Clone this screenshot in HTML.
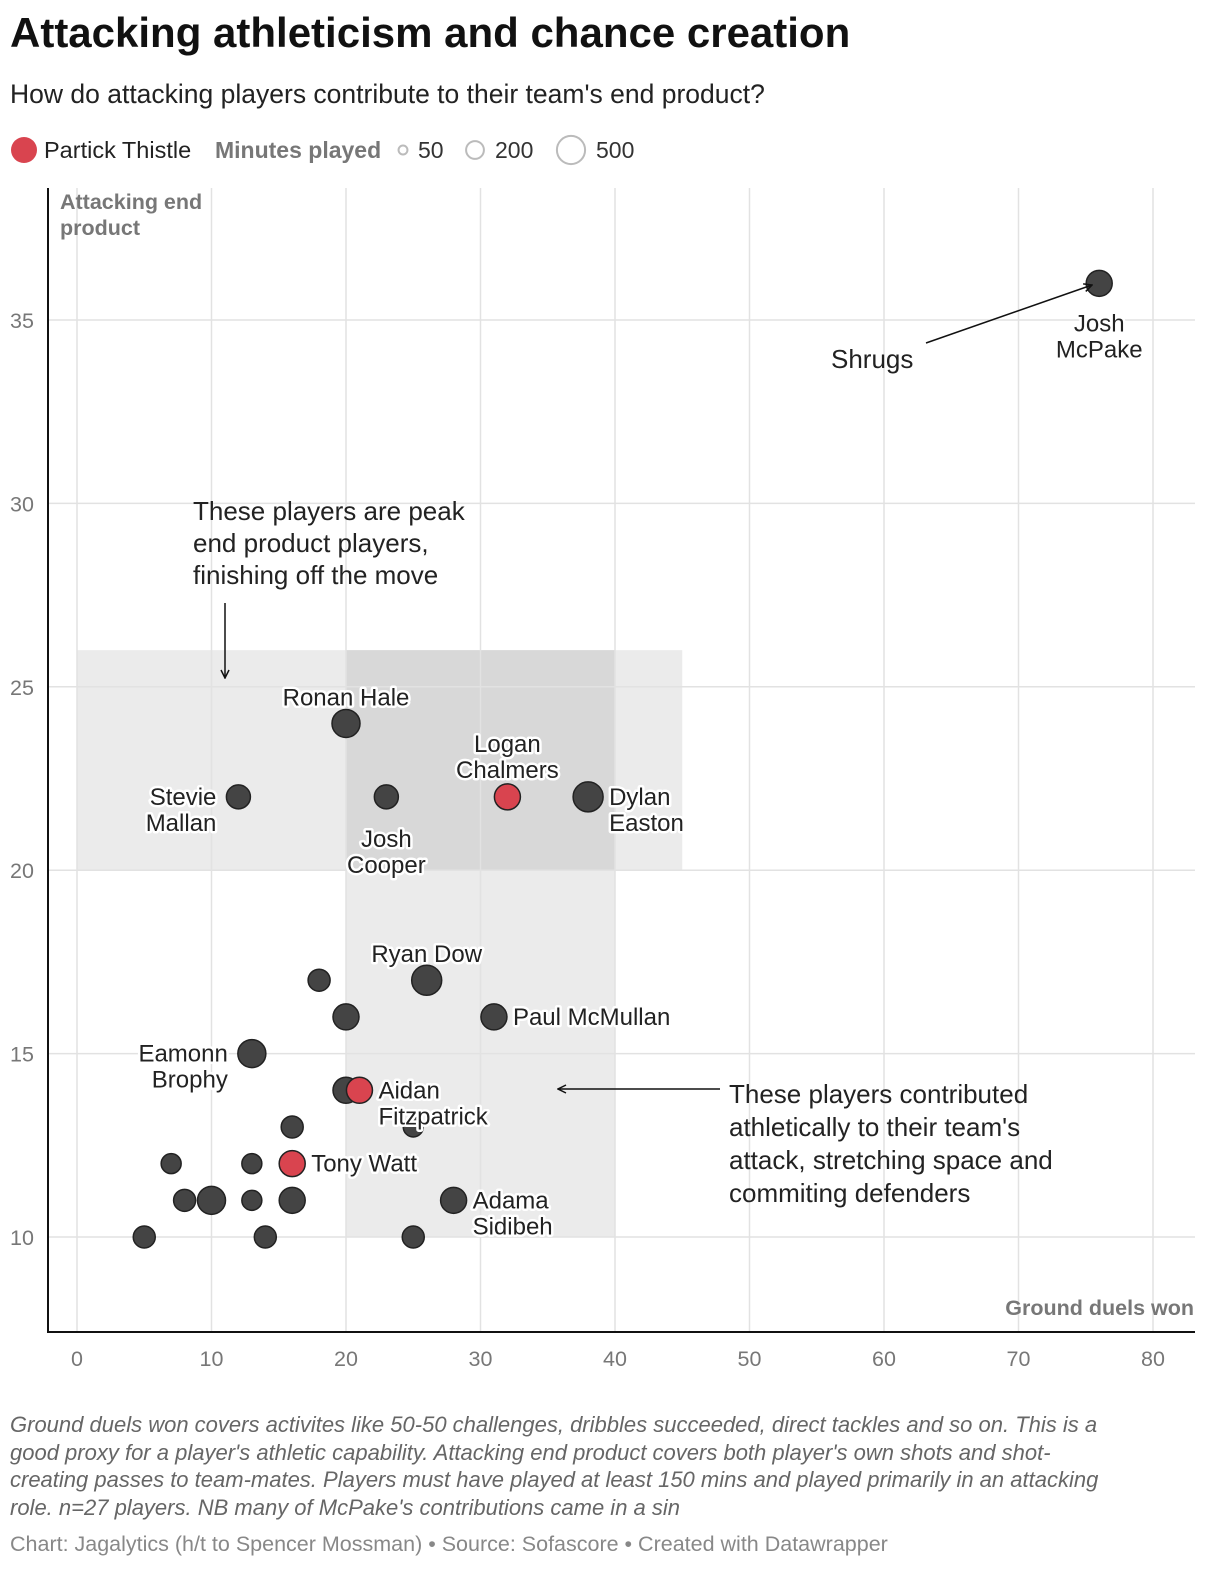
<!DOCTYPE html>
<html><head><meta charset="utf-8">
<style>
body{margin:0;background:#fff;font-family:"Liberation Sans",sans-serif;}
#wrap{position:relative;width:1220px;height:1588px;overflow:hidden;}
.t{position:absolute;white-space:nowrap;}
</style></head>
<body>
<div id="wrap">
<div class="t" style="left:10px;top:9px;font-size:42px;font-weight:bold;color:#111;">Attacking athleticism and chance creation</div>
<div class="t" style="left:10px;top:79px;font-size:26.5px;color:#222">How do attacking players contribute to their team's end product?</div>
<svg id="chart" width="1220" height="1400" style="position:absolute;left:0;top:0"></svg>
<div class="t" style="left:10px;top:1411px;font-size:22px;font-style:italic;color:#666;line-height:27.5px;">Ground duels won covers activites like 50-50 challenges, dribbles succeeded, direct tackles and so on. This is a<br>good proxy for a player's athletic capability. Attacking end product covers both player's own shots and shot-<br>creating passes to team-mates. Players must have played at least 150 mins and played primarily in an attacking<br>role. n=27 players. NB many of McPake's contributions came in a sin</div>
<div class="t" style="left:10px;top:1532px;font-size:21.5px;color:#888">Chart: Jagalytics (h/t to Spencer Mossman) • Source: Sofascore • Created with Datawrapper</div>
</div>
<script>
const xVals=[76,20,12,23,32,38,26,18,20,31,13,20,21,16,25,7,13,16,8,10,13,16,28,5,14,25];
const yVals=[36,24,22,22,22,22,17,17,16,16,15,14,14,13,13,12,12,12,11,11,11,11,11,10,10,10];
const minutes=[426,494,363,363,426,567,567,305,426,426,494,426,426,305,252,252,252,426,305,494,252,426,426,305,305,305];
const thistle=[0,0,0,0,1,0,0,0,0,0,0,0,1,0,0,0,0,1,0,0,0,0,0,0,0,0];
const names=["Josh\nMcPake","Ronan Hale","Stevie\nMallan","Josh\nCooper","Logan\nChalmers","Dylan\nEaston","Ryan Dow","","","Paul McMullan","Eamonn\nBrophy","","Aidan\nFitzpatrick","","","","","Tony Watt","","","","","Adama\nSidibeh","","",""];
const xTicks=[0,10,20,30,40,50,60,70,80];
const yTicks=[10,15,20,25,30,35];
const X=v=>77+v*13.45, Y=v=>1237-(v-10)*36.68, R=m=>0.63*Math.sqrt(m);
const svg=document.getElementById('chart'),NS='http://www.w3.org/2000/svg';
function mk(t,a,p){const e=document.createElementNS(NS,t);for(const k in a)e.setAttribute(k,a[k]);(p||svg).appendChild(e);return e;}
let s1=mk('rect',{x:X(0),y:Y(26),width:X(45)-X(0),height:Y(20)-Y(26),fill:'rgba(0,0,0,0.08)'});


let s2=mk('rect',{x:X(20),y:Y(26),width:X(40)-X(20),height:Y(10)-Y(26),fill:'rgba(0,0,0,0.08)'});


xTicks.forEach(v=>{let l=mk('line',{x1:X(v),x2:X(v),y1:188,y2:1332,stroke:'#e2e2e2','stroke-width':1.5});


let t=mk('text',{x:X(v),y:1366,'text-anchor':'middle','font-size':21.5,fill:'#777'});t.textContent=v;

});
yTicks.forEach(v=>{let l=mk('line',{x1:48,x2:1195,y1:Y(v),y2:Y(v),stroke:'#e2e2e2','stroke-width':1.5});


let t=mk('text',{x:10,y:Y(v)+8,'font-size':21.5,fill:'#777'});t.textContent=v;

});
let ax=mk('line',{x1:48,x2:48,y1:188,y2:1333,stroke:'#111','stroke-width':2});


let bx=mk('line',{x1:47,x2:1195,y1:1332,y2:1332,stroke:'#111','stroke-width':2});


function txt(s,x,y,o){const g=mk('text',Object.assign({x:x,y:y,'font-size':24,fill:'#222'},o||{}));const lines=s.split('\n');lines.forEach((ln,i)=>{const ts=mk('tspan',{x:x,dy:i?26:0},g);ts.textContent=ln;});return g;}
let yt=txt('Attacking end\nproduct',60,209,{'font-size':21.5,'font-weight':'bold',fill:'#777'});


let xt=txt('Ground duels won',1194,1315,{'font-size':21.5,'font-weight':'bold',fill:'#777','text-anchor':'end'});


let lg=mk('g',{});


mk('circle',{cx:24,cy:150,r:13,fill:'#d9444f'},lg);
let lt=mk('text',{x:44,y:158,'font-size':23.5,fill:'#222'},lg);lt.textContent='Partick Thistle';
let lm=mk('text',{x:215,y:158,'font-size':23,fill:'#777','font-weight':'bold'},lg);lm.textContent='Minutes played';
[[50,403,418],[200,475,495],[500,571,596]].forEach(([m,cx,tx])=>{mk('circle',{cx:cx,cy:150,r:R(m),fill:'none',stroke:'#bbb','stroke-width':2},lg);let t=mk('text',{x:tx,y:158,'font-size':23,fill:'#333'},lg);t.textContent=m;});
xVals.forEach((v,i)=>{let c=mk('circle',{cx:X(v),cy:Y(yVals[i]),r:R(minutes[i]),fill:thistle[i]?'#d9444f':'#444',stroke:'#222','stroke-width':1.5});

});
const lab=[[0,'middle',40],[1,'middle',-26],[2,'end',0],[3,'middle',42],[4,'middle',-53],[5,'start',0],[6,'middle',-26],[9,'start',0],[10,'end',0],[12,'start',0],[17,'start',0],[22,'start',0]];
lab.forEach(([i,anc,dy])=>{const r=R(minutes[i]);let x=X(xVals[i]),y=Y(yVals[i])+8+dy;
if(anc==='start')x+=r+6;if(anc==='end')x-=r+10;
const t=txt(names[i],x,y,{'text-anchor':anc,stroke:'#fff','stroke-width':5,'paint-order':'stroke','stroke-linejoin':'round'});

});
mk('defs',{}).innerHTML='<marker id="ah" markerWidth="10" markerHeight="10" refX="9" refY="5" orient="auto" markerUnits="userSpaceOnUse"><path d="M1,1 L9,5 L1,9" fill="none" stroke="#111" stroke-width="1.5"/></marker>';
let a1=mk('line',{x1:926,y1:343,x2:1092,y2:285,stroke:'#111','stroke-width':1.5,'marker-end':'url(#ah)'});


let t1=txt('Shrugs',831,368,{'font-size':26});


let a2=mk('line',{x1:225,y1:603,x2:225,y2:678,stroke:'#111','stroke-width':1.5,'marker-end':'url(#ah)'});


let t2=txt('These players are peak\nend product players,\nfinishing off the move',193,520,{'font-size':26});
t2.querySelectorAll('tspan').forEach((s,i)=>{if(i)s.setAttribute('dy',32);});


let a3=mk('line',{x1:720,y1:1089,x2:558,y2:1089,stroke:'#111','stroke-width':1.5,'marker-end':'url(#ah)'});


let t3=txt("These players contributed\nathletically to their team's\nattack, stretching space and\ncommiting defenders",729,1103,{'font-size':26});
t3.querySelectorAll('tspan').forEach((s,i)=>{if(i)s.setAttribute('dy',33);});


</script>
</body></html>
